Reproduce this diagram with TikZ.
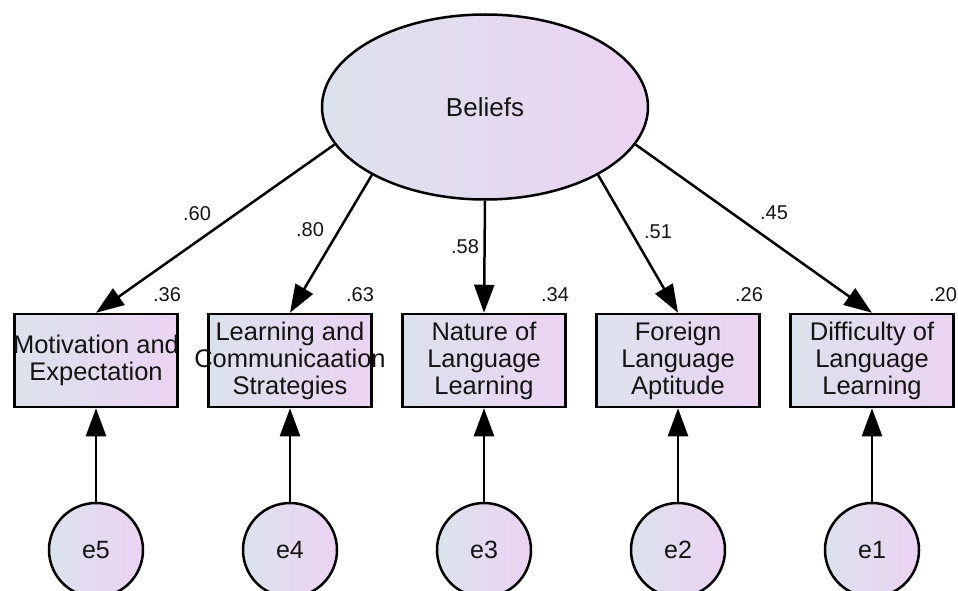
\documentclass[tikz,border=0pt]{standalone}
\usepackage{fontspec}
\setmainfont{Liberation Sans}
\usetikzlibrary{arrows.meta,shapes.geometric}
\definecolor{shadeL}{HTML}{DCE2EC}
\definecolor{shadeR}{HTML}{EBD3F2}
% centred line that may overflow its box without widening it
\newcommand{\ctrline}[1]{\makebox[0pt]{#1}}
\begin{document}
\begin{tikzpicture}[x=1pt,y=-1pt,
  every node/.style={text=black!92},
  gfill/.style={left color=shadeL,right color=shadeR},
  latent/.style={ellipse,draw,line width=2.5pt,gfill,minimum width=326pt,
    minimum height=185pt,inner sep=0pt,font=\fontsize{26}{29}\selectfont},
  observed/.style={rectangle,draw,line width=2.5pt,gfill,minimum width=163pt,
    minimum height=93pt,inner sep=0pt,align=center,font=\fontsize{25.5}{27}\selectfont},
  errnode/.style={circle,draw,line width=2.5pt,gfill,minimum size=94pt,
    inner sep=0pt,font=\fontsize{25}{27}\selectfont},
  arr/.style={line width=2.5pt,-{Triangle[length=28pt,width=20pt]}},
  coef/.style={font=\fontsize{20}{22}\selectfont,inner sep=0pt}]
\useasboundingbox (0,0) rectangle (958,591);
\fill[white] (0,0) rectangle (958,591);

% latent factor
\node[latent] (bel) at (485,107) {Beliefs};

% observed indicators
\node[observed] (b1) at (96,360.5)  {\ctrline{Motivation and}\\\ctrline{Expectation}};
\node[observed] (b2) at (290,360.5) {\ctrline{Learning and}\\\ctrline{Communicaation}\\\ctrline{Strategies}};
\node[observed] (b3) at (484,360.5) {\ctrline{Nature of}\\\ctrline{Language}\\\ctrline{Learning}};
\node[observed] (b4) at (678,360.5) {\ctrline{Foreign}\\\ctrline{Language}\\\ctrline{Aptitude}};
\node[observed] (b5) at (872,360.5) {\ctrline{Difficulty of}\\\ctrline{Language}\\\ctrline{Learning}};

% error terms
\node[errnode] (e5) at (96,550)  {e5};
\node[errnode] (e4) at (290,550) {e4};
\node[errnode] (e3) at (484,550) {e3};
\node[errnode] (e2) at (678,550) {e2};
\node[errnode] (e1) at (872,550) {e1};

% loadings
\draw[arr] (bel.-166) -- (b1.north);
\draw[arr] (bel.-149) -- (b2.north);
\draw[arr] (bel.south) -- (b3.north);
\draw[arr] (bel.-31)  -- (b4.north);
\draw[arr] (bel.-14)  -- (b5.north);

% error paths
\draw[arr] (e5.north) -- (b1.south);
\draw[arr] (e4.north) -- (b2.south);
\draw[arr] (e3.north) -- (b3.south);
\draw[arr] (e2.north) -- (b4.south);
\draw[arr] (e1.north) -- (b5.south);

% standardized loadings
\node[coef] (w1) at (197,214) {.60};
\node[coef] (w2) at (310,230) {.80};
\node[coef] (w3) at (465,247) {.58};
\node[coef] (w4) at (658,232) {.51};
\node[coef] (w5) at (774,213) {.45};

% squared multiple correlations
\node[coef] (r1) at (167,295) {.36};
\node[coef] (r2) at (360,295) {.63};
\node[coef] (r3) at (555,295) {.34};
\node[coef] (r4) at (749,295) {.26};
\node[coef] (r5) at (943,295) {.20};
\end{tikzpicture}
\end{document}
